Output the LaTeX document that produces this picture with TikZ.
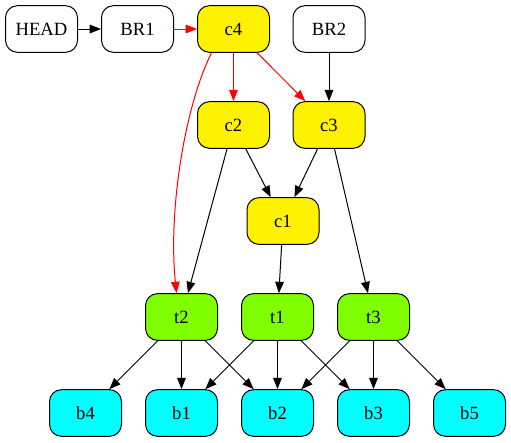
\documentclass[tikz,border=0pt]{standalone}
\usepackage{fontspec}
\setmainfont{Liberation Serif}
\usetikzlibrary{arrows.meta,calc}
\definecolor{chartreuse}{RGB}{127,255,0}
\definecolor{aqua}{RGB}{0,255,255}
\tikzset{
  box/.style={draw, rounded corners=9pt, line width=.75pt, minimum width=54pt,
    minimum height=35pt, inner sep=0pt, font=\fontsize{14}{16}\selectfont},
  commit/.style={box, fill=yellow},
  tree/.style={box, fill=chartreuse},
  blob/.style={box, fill=aqua},
  link/.style={line width=.75pt, -{Triangle[length=8.5pt,width=6.5pt]}},
  redlink/.style={link, red}
}
\begin{document}
\begin{tikzpicture}[x=.75pt, y=-.75pt]
\useasboundingbox (0,0) rectangle (511,443);
% refs and commits
\node[box] (head) at (41.5,29) {HEAD};
\node[box] (br1) at (137.5,29) {BR1};
\node[commit] (c4) at (233.5,29) {c4};
\node[box] (br2) at (329,29) {BR2};
\node[commit] (c2) at (233.5,125) {c2};
\node[commit] (c3) at (329,125) {c3};
\node[commit] (c1) at (283,221) {c1};
% trees
\node[tree] (t2) at (181.5,317) {t2};
\node[tree] (t1) at (277.5,317) {t1};
\node[tree] (t3) at (373.5,317) {t3};
% blobs
\node[blob] (b4) at (85.5,413) {b4};
\node[blob] (b1) at (181.5,413) {b1};
\node[blob] (b2) at (277.5,413) {b2};
\node[blob] (b3) at (373.5,413) {b3};
\node[blob] (b5) at (469.5,413) {b5};

\draw[link] (head) -- (br1);
\draw[redlink] (br1) -- (c4);
\draw[redlink] (c4) -- (c2);
\draw[redlink] (c4) -- (c3);
\draw[redlink] ($(c4.south west)+(15,-1)$) .. controls (185,105) and (168,210) .. ($(t2.north)+(-5,0)$);
\draw[link] (br2) -- (c3);
\draw[link] (c2) -- (c1);
\draw[link] (c3) -- (c1);
\draw[link] (c2) -- (t2);
\draw[link] (c1) -- (t1);
\draw[link] (c3) -- (t3);
\draw[link] (t2) -- (b4);
\draw[link] (t2) -- (b1);
\draw[link] (t2) -- (b2);
\draw[link] (t1) -- (b1);
\draw[link] (t1) -- (b2);
\draw[link] (t1) -- (b3);
\draw[link] (t3) -- (b2);
\draw[link] (t3) -- (b3);
\draw[link] (t3) -- (b5);
\end{tikzpicture}
\end{document}
